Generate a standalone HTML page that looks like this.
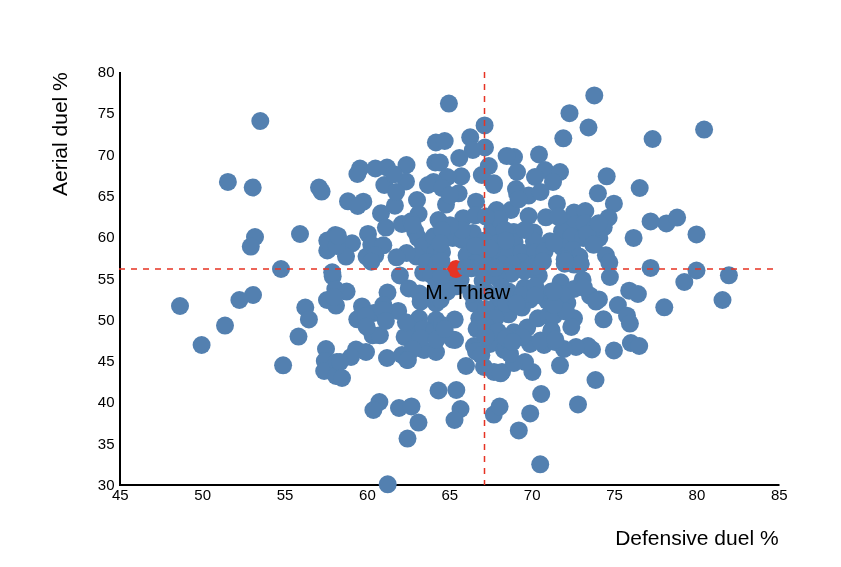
<!DOCTYPE html>
<html><head><meta charset="utf-8"><title>Scatter</title>
<style>
html,body{margin:0;padding:0;background:#fff;}
body{width:841px;height:567px;overflow:hidden;}
svg{display:block;}
text{font-family:"Liberation Sans",Arial,sans-serif;fill:#000;}
.tick{font-size:15px;}
.ttl{font-size:21px;}
</style></head><body>
<svg width="841" height="567" viewBox="0 0 841 567" xmlns="http://www.w3.org/2000/svg">
<rect width="841" height="567" fill="#fff"/>

<path d="M120 72V485H779.5" fill="none" stroke="#000" stroke-width="2"/>
<g fill="#5380b0">
<circle cx="260.3" cy="121" r="9"/>
<circle cx="227.9" cy="181.9" r="9"/>
<circle cx="252.7" cy="187.5" r="9"/>
<circle cx="319" cy="187.5" r="9"/>
<circle cx="321.6" cy="191.6" r="9"/>
<circle cx="255" cy="237" r="9"/>
<circle cx="250.8" cy="246.6" r="9"/>
<circle cx="300" cy="234" r="9"/>
<circle cx="281" cy="269" r="9"/>
<circle cx="253" cy="295" r="9"/>
<circle cx="239.4" cy="300" r="9"/>
<circle cx="180" cy="306" r="9"/>
<circle cx="305.3" cy="307.5" r="9"/>
<circle cx="225" cy="325.6" r="9"/>
<circle cx="201.6" cy="345" r="9"/>
<circle cx="308.9" cy="319.4" r="9"/>
<circle cx="298.5" cy="336.6" r="9"/>
<circle cx="283.1" cy="365.3" r="9"/>
<circle cx="448.9" cy="103.6" r="9"/>
<circle cx="484.6" cy="125.4" r="9"/>
<circle cx="470.2" cy="137.3" r="9"/>
<circle cx="485" cy="147.5" r="9"/>
<circle cx="472.8" cy="150" r="9"/>
<circle cx="459.3" cy="158" r="9"/>
<circle cx="435.9" cy="142.5" r="9"/>
<circle cx="444.7" cy="141" r="9"/>
<circle cx="435.3" cy="162.5" r="9"/>
<circle cx="439.9" cy="162.5" r="9"/>
<circle cx="438.5" cy="390.5" r="9"/>
<circle cx="456.3" cy="390" r="9"/>
<circle cx="379.4" cy="402" r="9"/>
<circle cx="373.4" cy="410" r="9"/>
<circle cx="399" cy="408" r="9"/>
<circle cx="411.5" cy="406.4" r="9"/>
<circle cx="418.5" cy="422.6" r="9"/>
<circle cx="407.5" cy="438.6" r="9"/>
<circle cx="460.5" cy="409" r="9"/>
<circle cx="454.5" cy="420" r="9"/>
<circle cx="493.8" cy="414.6" r="9"/>
<circle cx="387.7" cy="484.3" r="9"/>
<circle cx="594.3" cy="95.4" r="9"/>
<circle cx="569.5" cy="113.2" r="9"/>
<circle cx="588.5" cy="127.5" r="9"/>
<circle cx="563.3" cy="138.3" r="9"/>
<circle cx="652.6" cy="139" r="9"/>
<circle cx="539" cy="154.5" r="9"/>
<circle cx="606.7" cy="176.3" r="9"/>
<circle cx="639.7" cy="188" r="9"/>
<circle cx="704.1" cy="129.6" r="9"/>
<circle cx="666.4" cy="223.4" r="9"/>
<circle cx="677.1" cy="217.6" r="9"/>
<circle cx="696.5" cy="234.4" r="9"/>
<circle cx="696.5" cy="270.5" r="9"/>
<circle cx="684.3" cy="282" r="9"/>
<circle cx="728.9" cy="275.3" r="9"/>
<circle cx="722.5" cy="300" r="9"/>
<circle cx="630.9" cy="343" r="9"/>
<circle cx="639.2" cy="346" r="9"/>
<circle cx="613.9" cy="350.5" r="9"/>
<circle cx="560" cy="365.3" r="9"/>
<circle cx="595.5" cy="380" r="9"/>
<circle cx="541.2" cy="394" r="9"/>
<circle cx="578" cy="404.4" r="9"/>
<circle cx="530.2" cy="413.4" r="9"/>
<circle cx="518.8" cy="430.4" r="9"/>
<circle cx="540.2" cy="464.3" r="9"/>
<circle cx="328" cy="241.4" r="9"/>
<circle cx="327.3" cy="250.5" r="9"/>
<circle cx="327" cy="300" r="9"/>
<circle cx="326" cy="349" r="9"/>
<circle cx="324.8" cy="361" r="9"/>
<circle cx="324.2" cy="371" r="9"/>
<circle cx="336.8" cy="362" r="9"/>
<circle cx="336" cy="376" r="9"/>
<circle cx="406.5" cy="165" r="9"/>
<circle cx="360" cy="168.5" r="9"/>
<circle cx="357.4" cy="174" r="9"/>
<circle cx="375.4" cy="168.5" r="9"/>
<circle cx="387" cy="167.5" r="9"/>
<circle cx="406" cy="181.5" r="9"/>
<circle cx="384.3" cy="185" r="9"/>
<circle cx="488.8" cy="166" r="9"/>
<circle cx="481.8" cy="175" r="9"/>
<circle cx="493.8" cy="185" r="9"/>
<circle cx="461.3" cy="176.3" r="9"/>
<circle cx="447.3" cy="177" r="9"/>
<circle cx="433.5" cy="182" r="9"/>
<circle cx="428" cy="185" r="9"/>
<circle cx="442" cy="188" r="9"/>
<circle cx="514" cy="157" r="9"/>
<circle cx="517" cy="172" r="9"/>
<circle cx="545" cy="170" r="9"/>
<circle cx="535" cy="177" r="9"/>
<circle cx="560" cy="172" r="9"/>
<circle cx="553" cy="182" r="9"/>
<circle cx="516" cy="189" r="9"/>
<circle cx="356" cy="349.5" r="9"/>
<circle cx="366" cy="352" r="9"/>
<circle cx="351" cy="357" r="9"/>
<circle cx="340" cy="362" r="9"/>
<circle cx="342" cy="378" r="9"/>
<circle cx="387" cy="358" r="9"/>
<circle cx="402" cy="355" r="9"/>
<circle cx="407" cy="360" r="9"/>
<circle cx="424" cy="350" r="9"/>
<circle cx="436" cy="352" r="9"/>
<circle cx="455" cy="340" r="9"/>
<circle cx="474" cy="346" r="9"/>
<circle cx="466" cy="366" r="9"/>
<circle cx="484" cy="367" r="9"/>
<circle cx="490" cy="344" r="9"/>
<circle cx="502" cy="372" r="9"/>
<circle cx="494" cy="372" r="9"/>
<circle cx="504" cy="350" r="9"/>
<circle cx="592" cy="349.5" r="9"/>
<circle cx="588" cy="346" r="9"/>
<circle cx="576" cy="347" r="9"/>
<circle cx="564" cy="349" r="9"/>
<circle cx="532.4" cy="372" r="9"/>
<circle cx="525" cy="362" r="9"/>
<circle cx="514" cy="363" r="9"/>
<circle cx="544" cy="345" r="9"/>
<circle cx="530" cy="344" r="9"/>
<circle cx="555" cy="342" r="9"/>
<circle cx="506" cy="346" r="9"/>
<circle cx="510" cy="354" r="9"/>
<circle cx="348" cy="201.3" r="9"/>
<circle cx="363.3" cy="201.7" r="9"/>
<circle cx="357.7" cy="206" r="9"/>
<circle cx="381" cy="213.3" r="9"/>
<circle cx="394.9" cy="205.7" r="9"/>
<circle cx="396.1" cy="192" r="9"/>
<circle cx="417" cy="200" r="9"/>
<circle cx="418.6" cy="214" r="9"/>
<circle cx="385.9" cy="227.6" r="9"/>
<circle cx="401.9" cy="224" r="9"/>
<circle cx="411.2" cy="221.3" r="9"/>
<circle cx="415.2" cy="231.3" r="9"/>
<circle cx="368" cy="233.9" r="9"/>
<circle cx="335.3" cy="235" r="9"/>
<circle cx="352" cy="243.3" r="9"/>
<circle cx="346" cy="256.6" r="9"/>
<circle cx="371.3" cy="244.6" r="9"/>
<circle cx="383.3" cy="245.3" r="9"/>
<circle cx="366.6" cy="256.6" r="9"/>
<circle cx="375.3" cy="255.3" r="9"/>
<circle cx="438.5" cy="220" r="9"/>
<circle cx="418.2" cy="238.2" r="9"/>
<circle cx="412.6" cy="224.9" r="9"/>
<circle cx="423.2" cy="245.9" r="9"/>
<circle cx="433.9" cy="236.3" r="9"/>
<circle cx="435.2" cy="252.6" r="9"/>
<circle cx="416.6" cy="256.6" r="9"/>
<circle cx="406.6" cy="253" r="9"/>
<circle cx="396.6" cy="257.3" r="9"/>
<circle cx="427.2" cy="261.9" r="9"/>
<circle cx="327.3" cy="240.6" r="9"/>
<circle cx="336.7" cy="245.9" r="9"/>
<circle cx="338" cy="235.9" r="9"/>
<circle cx="458.6" cy="193.3" r="9"/>
<circle cx="446" cy="204.6" r="9"/>
<circle cx="476" cy="201.7" r="9"/>
<circle cx="463.3" cy="218.2" r="9"/>
<circle cx="475.3" cy="215.3" r="9"/>
<circle cx="493.9" cy="183.3" r="9"/>
<circle cx="496.6" cy="210" r="9"/>
<circle cx="517.2" cy="194" r="9"/>
<circle cx="528.6" cy="195.6" r="9"/>
<circle cx="540.5" cy="192" r="9"/>
<circle cx="511" cy="210" r="9"/>
<circle cx="528.6" cy="216" r="9"/>
<circle cx="545.9" cy="217.3" r="9"/>
<circle cx="518.6" cy="199.3" r="9"/>
<circle cx="492.3" cy="228.6" r="9"/>
<circle cx="472.9" cy="232.9" r="9"/>
<circle cx="452.7" cy="237.9" r="9"/>
<circle cx="462" cy="239.9" r="9"/>
<circle cx="442" cy="251.9" r="9"/>
<circle cx="466.6" cy="255.3" r="9"/>
<circle cx="499.3" cy="219.3" r="9"/>
<circle cx="513.9" cy="232" r="9"/>
<circle cx="533.9" cy="232.6" r="9"/>
<circle cx="549.9" cy="241.3" r="9"/>
<circle cx="514.6" cy="241.9" r="9"/>
<circle cx="533.9" cy="241.3" r="9"/>
<circle cx="485.9" cy="216.6" r="9"/>
<circle cx="484.6" cy="240.6" r="9"/>
<circle cx="497.9" cy="243.3" r="9"/>
<circle cx="482" cy="253.9" r="9"/>
<circle cx="495.3" cy="256.6" r="9"/>
<circle cx="508.6" cy="253.9" r="9"/>
<circle cx="521.9" cy="252.6" r="9"/>
<circle cx="535.2" cy="252.6" r="9"/>
<circle cx="544.5" cy="251.3" r="9"/>
<circle cx="524.6" cy="230" r="9"/>
<circle cx="504.6" cy="230" r="9"/>
<circle cx="521.9" cy="261.9" r="9"/>
<circle cx="541.9" cy="261.9" r="9"/>
<circle cx="503.3" cy="264.6" r="9"/>
<circle cx="485.9" cy="264.6" r="9"/>
<circle cx="462" cy="230" r="9"/>
<circle cx="475.3" cy="245.9" r="9"/>
<circle cx="450" cy="225.3" r="9"/>
<circle cx="442" cy="230" r="9"/>
<circle cx="505.9" cy="240.6" r="9"/>
<circle cx="489.9" cy="248.6" r="9"/>
<circle cx="512.6" cy="264.6" r="9"/>
<circle cx="532.6" cy="264.6" r="9"/>
<circle cx="450" cy="195.3" r="9"/>
<circle cx="475.3" cy="263.2" r="9"/>
<circle cx="556.9" cy="203.7" r="9"/>
<circle cx="597.9" cy="193.3" r="9"/>
<circle cx="613.9" cy="203.7" r="9"/>
<circle cx="574" cy="212.6" r="9"/>
<circle cx="585.3" cy="211" r="9"/>
<circle cx="608.6" cy="217.7" r="9"/>
<circle cx="603.7" cy="227.3" r="9"/>
<circle cx="599.3" cy="237.9" r="9"/>
<circle cx="594" cy="244.6" r="9"/>
<circle cx="605.9" cy="255.3" r="9"/>
<circle cx="609.3" cy="262.6" r="9"/>
<circle cx="633.6" cy="237.9" r="9"/>
<circle cx="650.6" cy="221.4" r="9"/>
<circle cx="566" cy="223.3" r="9"/>
<circle cx="575.3" cy="224.6" r="9"/>
<circle cx="562" cy="231.3" r="9"/>
<circle cx="584.6" cy="223.3" r="9"/>
<circle cx="594" cy="228.6" r="9"/>
<circle cx="571.3" cy="236.6" r="9"/>
<circle cx="583.3" cy="237.9" r="9"/>
<circle cx="562" cy="247.3" r="9"/>
<circle cx="572.6" cy="249.9" r="9"/>
<circle cx="579.3" cy="256.6" r="9"/>
<circle cx="564.7" cy="259.3" r="9"/>
<circle cx="574" cy="264.6" r="9"/>
<circle cx="587.3" cy="233.9" r="9"/>
<circle cx="558" cy="216.6" r="9"/>
<circle cx="554" cy="243.3" r="9"/>
<circle cx="598.6" cy="223.3" r="9"/>
<circle cx="580.6" cy="263.9" r="9"/>
<circle cx="332.7" cy="276.3" r="9"/>
<circle cx="346.6" cy="291.6" r="9"/>
<circle cx="336" cy="305.6" r="9"/>
<circle cx="371.3" cy="261.7" r="9"/>
<circle cx="362" cy="306.4" r="9"/>
<circle cx="357.3" cy="319.3" r="9"/>
<circle cx="387.5" cy="292.6" r="9"/>
<circle cx="399.9" cy="275.4" r="9"/>
<circle cx="408.8" cy="288.4" r="9"/>
<circle cx="423.2" cy="272.7" r="9"/>
<circle cx="431.2" cy="274.6" r="9"/>
<circle cx="419.5" cy="293.5" r="9"/>
<circle cx="383.3" cy="305" r="9"/>
<circle cx="335.3" cy="289" r="9"/>
<circle cx="334" cy="297" r="9"/>
<circle cx="420.6" cy="301.6" r="9"/>
<circle cx="436.1" cy="303.4" r="9"/>
<circle cx="436.1" cy="319.9" r="9"/>
<circle cx="419.1" cy="318.3" r="9"/>
<circle cx="398.2" cy="310.9" r="9"/>
<circle cx="373.9" cy="312.9" r="9"/>
<circle cx="383.3" cy="310.3" r="9"/>
<circle cx="372.6" cy="335.3" r="9"/>
<circle cx="379.9" cy="335.3" r="9"/>
<circle cx="385.9" cy="320.9" r="9"/>
<circle cx="436.5" cy="285" r="9"/>
<circle cx="433.9" cy="293.6" r="9"/>
<circle cx="409.9" cy="328.9" r="9"/>
<circle cx="423.2" cy="328.9" r="9"/>
<circle cx="433.9" cy="331.6" r="9"/>
<circle cx="441.9" cy="324.9" r="9"/>
<circle cx="404.6" cy="336.9" r="9"/>
<circle cx="420.6" cy="338.2" r="9"/>
<circle cx="436.5" cy="339.6" r="9"/>
<circle cx="405.9" cy="322.3" r="9"/>
<circle cx="440.7" cy="299.6" r="9"/>
<circle cx="456.6" cy="286.3" r="9"/>
<circle cx="474" cy="303.6" r="9"/>
<circle cx="479.3" cy="318.3" r="9"/>
<circle cx="476.6" cy="328.9" r="9"/>
<circle cx="454.7" cy="319.6" r="9"/>
<circle cx="452.7" cy="339.6" r="9"/>
<circle cx="444.7" cy="328.9" r="9"/>
<circle cx="447.3" cy="291.6" r="9"/>
<circle cx="460.6" cy="279.6" r="9"/>
<circle cx="482.6" cy="281" r="9"/>
<circle cx="471.3" cy="268.3" r="9"/>
<circle cx="471.3" cy="293.6" r="9"/>
<circle cx="511.3" cy="273.7" r="9"/>
<circle cx="524.6" cy="271" r="9"/>
<circle cx="508.6" cy="291.6" r="9"/>
<circle cx="524.6" cy="287.6" r="9"/>
<circle cx="444.7" cy="281" r="9"/>
<circle cx="496.6" cy="307.6" r="9"/>
<circle cx="508.6" cy="314.3" r="9"/>
<circle cx="521.9" cy="307.6" r="9"/>
<circle cx="529.9" cy="299.6" r="9"/>
<circle cx="513.9" cy="332.3" r="9"/>
<circle cx="527.2" cy="327.6" r="9"/>
<circle cx="537.9" cy="318.3" r="9"/>
<circle cx="538.8" cy="275.7" r="9"/>
<circle cx="551.2" cy="291.6" r="9"/>
<circle cx="551.5" cy="330.3" r="9"/>
<circle cx="540.5" cy="340.6" r="9"/>
<circle cx="485.9" cy="271.7" r="9"/>
<circle cx="497.9" cy="278.3" r="9"/>
<circle cx="485.9" cy="291.6" r="9"/>
<circle cx="497.9" cy="298.3" r="9"/>
<circle cx="485.9" cy="308.9" r="9"/>
<circle cx="495.3" cy="318.3" r="9"/>
<circle cx="485.9" cy="326.3" r="9"/>
<circle cx="497.9" cy="331.6" r="9"/>
<circle cx="485.9" cy="336.9" r="9"/>
<circle cx="535.2" cy="286.3" r="9"/>
<circle cx="547.2" cy="301" r="9"/>
<circle cx="548.5" cy="315.6" r="9"/>
<circle cx="521.9" cy="295.6" r="9"/>
<circle cx="535.2" cy="295.6" r="9"/>
<circle cx="505.9" cy="303.6" r="9"/>
<circle cx="516.6" cy="303.6" r="9"/>
<circle cx="501.9" cy="287.6" r="9"/>
<circle cx="552.5" cy="305" r="9"/>
<circle cx="521.9" cy="336.9" r="9"/>
<circle cx="505.9" cy="338.2" r="9"/>
<circle cx="495.3" cy="267.7" r="9"/>
<circle cx="535.2" cy="266.3" r="9"/>
<circle cx="564.7" cy="263.7" r="9"/>
<circle cx="580.6" cy="263.9" r="9"/>
<circle cx="609.9" cy="277" r="9"/>
<circle cx="650.6" cy="267.9" r="9"/>
<circle cx="629.2" cy="290.7" r="9"/>
<circle cx="637.9" cy="294" r="9"/>
<circle cx="617.9" cy="305" r="9"/>
<circle cx="627" cy="315.7" r="9"/>
<circle cx="629.9" cy="323.6" r="9"/>
<circle cx="603.5" cy="319.3" r="9"/>
<circle cx="664.3" cy="307.3" r="9"/>
<circle cx="560.7" cy="282.3" r="9"/>
<circle cx="582.6" cy="279.9" r="9"/>
<circle cx="574" cy="289" r="9"/>
<circle cx="590" cy="295.6" r="9"/>
<circle cx="598.9" cy="299.4" r="9"/>
<circle cx="596" cy="301.6" r="9"/>
<circle cx="567.3" cy="303" r="9"/>
<circle cx="562" cy="294.3" r="9"/>
<circle cx="574" cy="318.3" r="9"/>
<circle cx="571.3" cy="326.9" r="9"/>
<circle cx="554" cy="315.6" r="9"/>
<circle cx="551.3" cy="331.6" r="9"/>
<circle cx="555.3" cy="339.6" r="9"/>
<circle cx="566" cy="311.6" r="9"/>
<circle cx="554" cy="305" r="9"/>
<circle cx="554" cy="291.6" r="9"/>
<circle cx="584" cy="287.6" r="9"/>
<circle cx="412.6" cy="349.3" r="9"/>
<circle cx="407.9" cy="360" r="9"/>
<circle cx="476" cy="351.3" r="9"/>
<circle cx="481.3" cy="355.3" r="9"/>
<circle cx="499.6" cy="406.6" r="9"/>
<circle cx="500.6" cy="373.3" r="9"/>
<circle cx="512.7" cy="342" r="9"/>
<circle cx="393.9" cy="174.3" r="9"/>
<circle cx="506.6" cy="156" r="9"/>
<circle cx="332.2" cy="272.3" r="9"/>
<circle cx="365.9" cy="315.9" r="9"/>
<circle cx="366.6" cy="326.6" r="9"/>
<circle cx="437" cy="263" r="9"/>
<circle cx="440.5" cy="243.3" r="9"/>
<circle cx="542.9" cy="261.3" r="9"/>
<circle cx="565.2" cy="261.3" r="9"/>
<circle cx="593.2" cy="244.6" r="9"/>
</g>
<circle cx="456" cy="269" r="9" fill="#e63323"/>
<g fill="#5380b0">
<circle cx="441.4" cy="261" r="9"/>
<circle cx="441.2" cy="276.4" r="9"/>
<circle cx="466.2" cy="267.7" r="9"/>
</g>
<path d="M119 269H779" fill="none" stroke="#e63323" stroke-width="1.5" stroke-dasharray="6 6"/>
<path d="M484.5 72V485" fill="none" stroke="#e63323" stroke-width="1.5" stroke-dasharray="6 6"/>
<text class="tick" x="114.5" y="490.0" text-anchor="end">30</text>
<text class="tick" x="114.5" y="448.7" text-anchor="end">35</text>
<text class="tick" x="114.5" y="407.4" text-anchor="end">40</text>
<text class="tick" x="114.5" y="366.1" text-anchor="end">45</text>
<text class="tick" x="114.5" y="324.8" text-anchor="end">50</text>
<text class="tick" x="114.5" y="283.5" text-anchor="end">55</text>
<text class="tick" x="114.5" y="242.2" text-anchor="end">60</text>
<text class="tick" x="114.5" y="200.9" text-anchor="end">65</text>
<text class="tick" x="114.5" y="159.6" text-anchor="end">70</text>
<text class="tick" x="114.5" y="118.3" text-anchor="end">75</text>
<text class="tick" x="114.5" y="77.0" text-anchor="end">80</text>
<text class="tick" x="120.3" y="499.5" text-anchor="middle">45</text>
<text class="tick" x="202.7" y="499.5" text-anchor="middle">50</text>
<text class="tick" x="285.1" y="499.5" text-anchor="middle">55</text>
<text class="tick" x="367.4" y="499.5" text-anchor="middle">60</text>
<text class="tick" x="449.8" y="499.5" text-anchor="middle">65</text>
<text class="tick" x="532.2" y="499.5" text-anchor="middle">70</text>
<text class="tick" x="614.5" y="499.5" text-anchor="middle">75</text>
<text class="tick" x="696.9" y="499.5" text-anchor="middle">80</text>
<text class="tick" x="779.3" y="499.5" text-anchor="middle">85</text>
<text class="ttl" x="778.6" y="544.6" text-anchor="end">Defensive duel %</text>
<text class="ttl" transform="translate(66.7,196) rotate(-90)">Aerial duel %</text>
<text class="ttl" x="425.3" y="298.8">M. Thiaw</text>
</svg></body></html>
